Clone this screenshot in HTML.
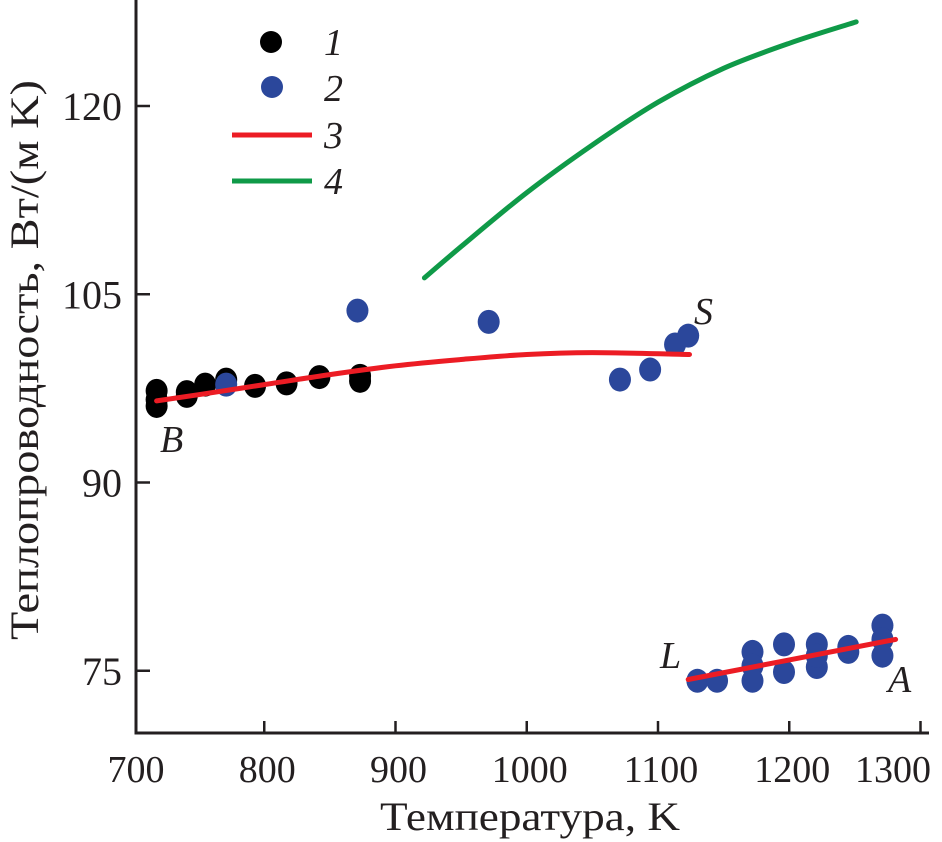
<!DOCTYPE html>
<html><head><meta charset="utf-8"><style>
body{margin:0;background:#fff}
svg{display:block;font-family:"Liberation Serif",serif}
</style></head><body>
<svg id="chart" width="942" height="842" viewBox="0 0 942 842" xmlns="http://www.w3.org/2000/svg">
<g id="axes"></g>
<g id="series"></g>
<g id="legend"></g>
</svg>
<script>
const xTicks=[700,800,900,1000,1100,1200,1300];
const yTicks=[75,90,105,120];
const s1T=[718,718,718,741,741,755,771,793,817,842,873,873];
const s1V=[97.3,96.6,96.1,97.2,96.9,97.8,98.2,97.7,97.9,98.4,98.5,98.1];
const s2T=[771,871,971,1071,1094,1113,1123,1130,1145,1172,1172,1172,1196,1196,1221,1221,1221,1245,1245,1271,1271,1271];
const s2V=[97.8,103.7,102.8,98.2,99.0,101.0,101.7,74.2,74.2,76.5,75.4,74.2,77.1,74.9,77.1,75.3,76.2,76.5,76.9,78.6,77.5,76.2];
const s3aT=[718,750,800,850,900,950,1000,1050,1124];
const s3aV=[96.5,97.0,97.8,98.6,99.3,99.8,100.2,100.35,100.2];
const s3bT=[1123,1281];
const s3bV=[74.3,77.5];
const s4T=[922,950,1000,1050,1100,1150,1200,1251];
const s4V=[106.3,108.8,113.1,116.9,120.3,123.0,125.0,126.7];

const NS="http://www.w3.org/2000/svg";
function X(t){return 133+(t-700)*1.3125;}
function Y(v){return 106+(120-v)*12.55;}
function mk(tag,attrs,parent,text){const e=document.createElementNS(NS,tag);for(const k in attrs)e.setAttribute(k,attrs[k]);if(text!==undefined)e.textContent=text;parent.appendChild(e);return e;}
const axes=document.getElementById('axes'),ser=document.getElementById('series'),leg=document.getElementById('legend');
let e;
e=mk('path',{d:'M136 0 V733 H929',fill:'none',stroke:'#231f20','stroke-width':3},axes);


xTicks.forEach(t=>{
  if(t>700){e=mk('line',{x1:X(t),x2:X(t),y1:733,y2:721,stroke:'#231f20','stroke-width':2.5},axes);
  
  }
  const last=t===1300;
  e=mk('text',{x:last?931:X(t)+3,y:782,'text-anchor':last?'end':'middle','font-size':38,fill:'#231f20'},axes,String(t));
  
  
});
yTicks.forEach(v=>{
  e=mk('line',{x1:136,x2:150,y1:Y(v),y2:Y(v),stroke:'#231f20','stroke-width':2.5},axes);
  
  
  e=mk('text',{x:122,y:Y(v)+14,'text-anchor':'end','font-size':40,fill:'#231f20'},axes,String(v));
  
  
});
e=mk('text',{x:530,y:830,'text-anchor':'middle','font-size':40,fill:'#231f20',textLength:300,lengthAdjust:'spacingAndGlyphs'},axes,'Температура, K');


e=mk('text',{x:0,y:0,'text-anchor':'middle','font-size':40,fill:'#231f20',textLength:560,lengthAdjust:'spacingAndGlyphs',transform:'translate(38,360) rotate(-90)'},axes,'Теплопроводность, Вт/(м K)');



function line(T,V,color,name){
  const P=T.map((t,i)=>[X(t),Y(V[i])]);
  let d='M'+P[0][0].toFixed(1)+' '+P[0][1].toFixed(1);
  for(let i=0;i<P.length-1;i++){
    const p0=P[i-1]||P[i],p1=P[i],p2=P[i+1],p3=P[i+2]||P[i+1];
    const c1=[p1[0]+(p2[0]-p0[0])/6,p1[1]+(p2[1]-p0[1])/6];
    const c2=[p2[0]-(p3[0]-p1[0])/6,p2[1]-(p3[1]-p1[1])/6];
    d+=' C'+c1.map(n=>n.toFixed(1)).join(' ')+' '+c2.map(n=>n.toFixed(1)).join(' ')+' '+p2.map(n=>n.toFixed(1)).join(' ');
  }
  const p=mk('path',{d:d,fill:'none',stroke:color,'stroke-width':5,'stroke-linecap':'round','stroke-linejoin':'round'},ser);
  
  
}
s1T.forEach((t,i)=>{e=mk('ellipse',{cx:X(t),cy:Y(s1V[i]),rx:11,ry:12,fill:'#000'},ser);
  
  });
s2T.forEach((t,i)=>{e=mk('ellipse',{cx:X(t),cy:Y(s2V[i]),rx:11,ry:12,fill:'#2b479b'},ser);
  
  });
line(s3aT,s3aV,'#ec1c24','line-series-3-solid');
line(s3bT,s3bV,'#ec1c24','line-series-3-liquid');
line(s4T,s4V,'#0f9a48','line-series-4');

[['B',160,452],['S',694,324],['L',660,668],['A',888,692]].forEach(a=>{
  e=mk('text',{x:a[1],y:a[2],'font-size':38,'font-style':'italic',fill:'#231f20'},ser,a[0]);
  
  
});

e=mk('circle',{cx:271,cy:42,r:11,fill:'#000'},leg);


e=mk('circle',{cx:272,cy:87,r:11,fill:'#2b479b'},leg);


e=mk('line',{x1:232,x2:312,y1:135,y2:135,stroke:'#ec1c24','stroke-width':5},leg);


e=mk('line',{x1:232,x2:312,y1:181,y2:181,stroke:'#0f9a48','stroke-width':5},leg);


[['1',42],['2',88],['3',135],['4',181]].forEach(a=>{
  e=mk('text',{x:324,y:a[1]+13,'font-size':38,'font-style':'italic',fill:'#231f20'},leg,a[0]);
  
  
});
</script>
</body></html>
